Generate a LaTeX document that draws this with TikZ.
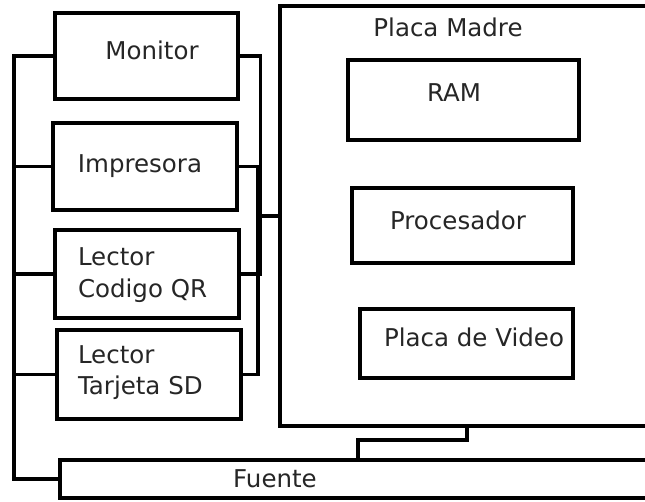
\documentclass[tikz,border=0pt]{standalone}
\usepackage{fontspec}
\setmainfont{DejaVu Sans}
\begin{document}
\begin{tikzpicture}[x=1pt,y=-1pt,
  box/.style={draw=black,line width=3.4pt,inner sep=0pt,outer sep=0pt,fill=none},
  wire/.style={draw=black,line width=3.4pt,line cap=rect},
  lbl/.style={inner sep=0pt,outer sep=0pt,text=black!85,font=\fontsize{24.5}{32}\selectfont,anchor=base}]
\useasboundingbox (0,0) rectangle (645,502);
\fill[white] (0,0) rectangle (645,502);
\clip (0,0) rectangle (645,502);
% boxes
\node[box,minimum width=183pt,minimum height=86pt] (mon) at (146.5,56) {};
\node[box,minimum width=184pt,minimum height=87pt] (imp) at (145,166.5) {};
\node[box,minimum width=184pt,minimum height=88pt] (qr) at (147,274) {};
\node[box,minimum width=184pt,minimum height=89pt] (sd) at (149,374.5) {};
\node[box,minimum width=374pt,minimum height=420pt] (pm) at (467,216) {};
\node[box,minimum width=231pt,minimum height=80pt] (ram) at (463.5,100) {};
\node[box,minimum width=221pt,minimum height=75pt] (proc) at (462.5,225.5) {};
\node[box,minimum width=213pt,minimum height=69pt] (vid) at (466.5,343.5) {};
\node[box,minimum width=596pt,minimum height=38pt] (fue) at (358,479) {};
% texts
\node[lbl] (tmon) at (152,60) {Monitor};
\node[lbl] (timp) at (140,173) {Impresora};
\node[lbl,anchor=base west] (tqr1) at (78,266) {Lector};
\node[lbl,anchor=base west] (tqr2) at (78,298) {Codigo QR};
\node[lbl,anchor=base west] (tsd1) at (78,363) {Lector};
\node[lbl,anchor=base west] (tsd2) at (78,395) {Tarjeta SD};
\node[lbl] (tpm) at (448,37) {Placa Madre};
\node[lbl] (tram) at (454,102) {RAM};
\node[lbl] (tproc) at (458,230) {Procesador};
\node[lbl] (tvid) at (474,347) {Placa de Video};
\node[lbl] (tfue) at (275,487) {Fuente};
% left bus
\coordinate (lb) at (14,56);
\draw[wire] (mon.west) -- (lb) |- (fue.west);
\draw[wire] (imp.west) -- (imp.west -| lb);
\draw[wire] (qr.west) -- (qr.west -| lb);
\draw[wire] (sd.west) -- (sd.west -| lb);
% right bus
\coordinate (rb1) at (260.5,56);
\coordinate (rb2) at (258,166);
\draw[wire] (mon.east) -| (rb1 |- qr.east) -- (qr.east);
\draw[wire] (imp.east) -| (rb2 |- sd.east) -- (sd.east);
\draw[wire] (pm.west) -- (pm.west -| rb1);
% motherboard to power supply
\draw[wire] (pm.south) -- ++(0,14) -| (fue.north -| 358,0);
\end{tikzpicture}
\end{document}
